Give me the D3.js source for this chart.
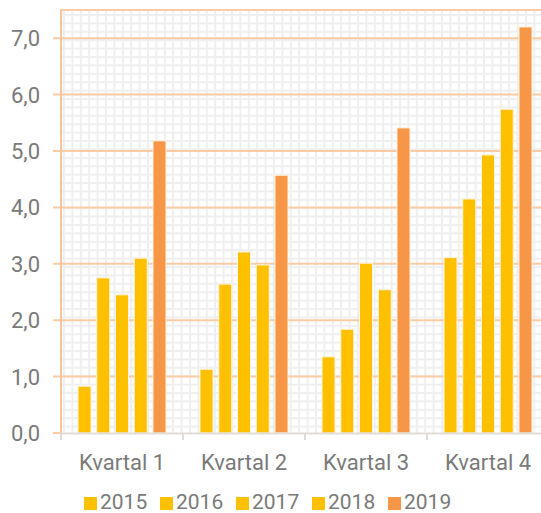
<!DOCTYPE html>
<html>
<head>
<meta charset="utf-8">
<script src="https://cdn.jsdelivr.net/npm/d3@7"></script>
<style>
  body { margin: 0; background: #fff; }
  svg { display: block; font-family: Roboto, "Open Sans", sans-serif; }
</style>
</head>
<body>
<script>
// data
var quarters = ["Kvartal 1", "Kvartal 2", "Kvartal 3", "Kvartal 4"];
var years = ["2015", "2016", "2017", "2018", "2019"];
var v2015 = [0.83, 1.13, 1.35, 3.11];
var v2016 = [2.75, 2.64, 1.84, 4.15];
var v2017 = [2.45, 3.21, 3.01, 4.93];
var v2018 = [3.10, 2.98, 2.54, 5.74];
var v2019 = [5.18, 4.57, 5.41, 7.20];
var yTicks = [0, 1, 2, 3, 4, 5, 6, 7];

var series = [v2015, v2016, v2017, v2018, v2019];
var colors = ["#FFC000", "#FFC000", "#FFC000", "#FFC000", "#F79646"];

var width = 541, height = 513;
// plot box (right edge runs past the picture, as in the original)
var plotL = 61, plotR = 549, plotT = 10, plotB = 433;

var svg = d3.select("body").append("svg")
    .attr("width", width)
    .attr("height", height);

var x = d3.scaleBand().domain(quarters).range([plotL, plotR]);
var xi = d3.scaleBand().domain(years).range([17, 105]).paddingInner(0.307);
var y = d3.scaleLinear().domain([0, 7.5]).range([plotB, plotT]);

// background pattern (small grid)
var defs = svg.append("defs");
var pat = defs.append("pattern")
    .attr("id", "grid")
    .attr("patternUnits", "userSpaceOnUse")
    .attr("x", plotL + 2).attr("y", plotT + 4)
    .attr("width", 8.4).attr("height", 8.4);
pat.append("rect").attr("width", 8.4).attr("height", 8.4).attr("fill", "#fff");
pat.append("rect").attr("width", 2).attr("height", 8.4).attr("fill", "#efefef");
pat.append("rect").attr("width", 8.4).attr("height", 2).attr("fill", "#efefef");

svg.append("rect")
    .attr("x", plotL).attr("y", plotT)
    .attr("width", plotR - plotL).attr("height", plotB - plotT)
    .attr("fill", "url(#grid)");

// major gridlines + top border
svg.append("g")
  .selectAll("line")
  .data(yTicks.filter(function(d){ return d > 0; }).concat([7.5]))
  .enter().append("line")
    .attr("x1", function(d){ return d == 7.5 ? plotL : plotL - 8; })
    .attr("x2", plotR)
    .attr("y1", function(d){ return y(d); })
    .attr("y2", function(d){ return y(d); })
    .attr("stroke", "#FBCBA4")
    .attr("stroke-width", 2);

// left axis line
svg.append("line")
    .attr("x1", plotL).attr("x2", plotL)
    .attr("y1", plotT - 1).attr("y2", plotB)
    .attr("stroke", "#FBC49A").attr("stroke-width", 2);

// y tick labels
svg.append("g")
  .selectAll("text")
  .data(yTicks)
  .enter().append("text")
    .attr("x", 40)
    .attr("y", function(d){ return y(d) + 8; })
    .attr("text-anchor", "end")
    .attr("font-size", 22)
    .attr("fill", "#7a7a7a")
    .text(function(d){ return d.toFixed(1).replace(".", ","); });

// bars
var groups = svg.append("g")
  .selectAll("g")
  .data(series)
  .enter().append("g")
    .attr("fill", function(d, i){ return colors[i]; });

groups.selectAll("rect")
  .data(function(d, i){ return d.map(function(v, j){ return {q: quarters[j], yr: years[i], v: v}; }); })
  .enter().append("rect")
    .attr("x", function(d){ return x(d.q) + xi(d.yr); })
    .attr("y", function(d){ return y(d.v); })
    .attr("width", xi.bandwidth())
    .attr("height", function(d){ return plotB - y(d.v); })
    .attr("stroke", "#FFF3E0")
    .attr("stroke-width", 1);

// x axis line and ticks
svg.append("line")
    .attr("x1", plotL).attr("x2", plotR)
    .attr("y1", plotB + 0.5).attr("y2", plotB + 0.5)
    .attr("stroke", "#E2DDD8").attr("stroke-width", 2);
// orange tick at zero
svg.append("line")
    .attr("x1", plotL - 8).attr("x2", plotL)
    .attr("y1", plotB).attr("y2", plotB)
    .attr("stroke", "#FBCBA4").attr("stroke-width", 2);

svg.append("g")
  .selectAll("line")
  .data(quarters)
  .enter().append("line")
    .attr("x1", function(d){ return x(d); })
    .attr("x2", function(d){ return x(d); })
    .attr("y1", plotB).attr("y2", plotB + 7)
    .attr("stroke", "#DCDCDC").attr("stroke-width", 2);

// category labels
svg.append("g")
  .selectAll("text")
  .data(quarters)
  .enter().append("text")
    .attr("x", function(d){ return x(d) + x.bandwidth() / 2; })
    .attr("y", 470)
    .attr("text-anchor", "middle")
    .attr("font-size", 22)
    .attr("fill", "#7a7a7a")
    .text(function(d){ return d; });

// legend
var legend = svg.append("g")
  .selectAll("g")
  .data(years)
  .enter().append("g")
    .attr("transform", function(d, i){ return "translate(" + (84 + i * 76) + ",0)"; });

legend.append("rect")
    .attr("x", 0).attr("y", 497)
    .attr("width", 13).attr("height", 13)
    .attr("fill", function(d, i){ return colors[i]; });

legend.append("text")
    .attr("x", 16).attr("y", 509)
    .attr("font-size", 21)
    .attr("fill", "#7a7a7a")
    .text(function(d){ return d; });
</script>
</body>
</html>
